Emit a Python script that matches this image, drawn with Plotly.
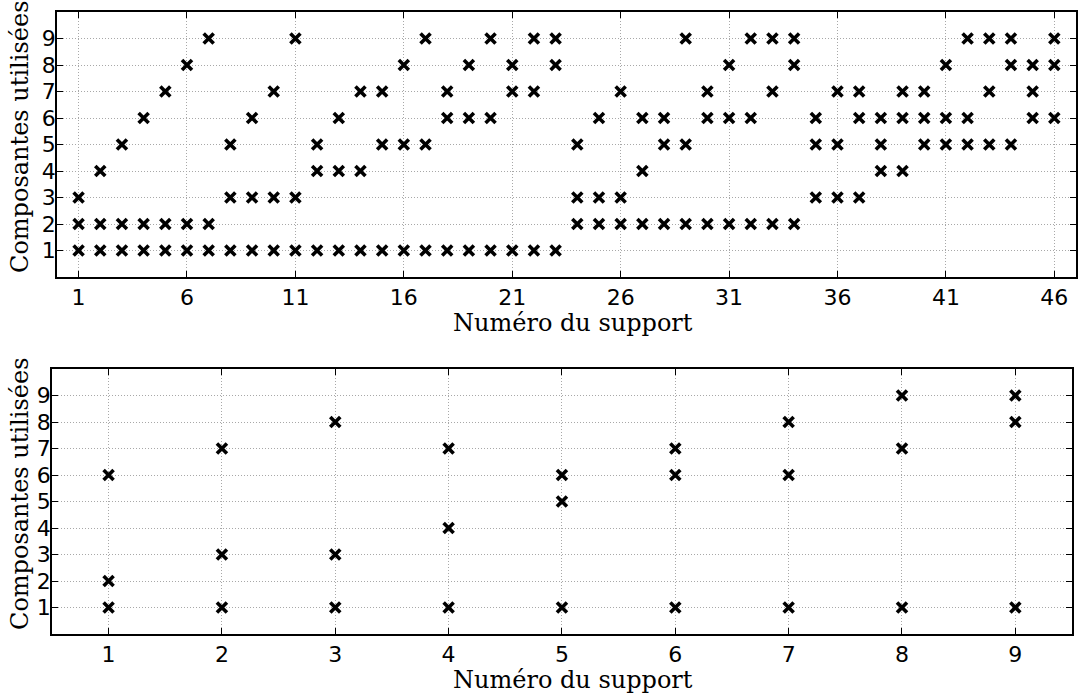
import plotly.graph_objects as go

W, H = 1078, 695

# Top chart: support number -> components used
top_supports = list(range(1, 47))
top_components = [
    [1, 2, 3], [1, 2, 4], [1, 2, 5], [1, 2, 6], [1, 2, 7], [1, 2, 8], [1, 2, 9],
    [1, 3, 5], [1, 3, 6], [1, 3, 7], [1, 3, 9], [1, 4, 5], [1, 4, 6], [1, 4, 7],
    [1, 5, 7], [1, 5, 8], [1, 5, 9], [1, 6, 7], [1, 6, 8], [1, 6, 9], [1, 7, 8],
    [1, 7, 9], [1, 8, 9], [2, 3, 5], [2, 3, 6], [2, 3, 7], [2, 4, 6], [2, 5, 6],
    [2, 5, 9], [2, 6, 7], [2, 6, 8], [2, 6, 9], [2, 7, 9], [2, 8, 9], [3, 5, 6],
    [3, 5, 7], [3, 6, 7], [4, 5, 6], [4, 6, 7], [5, 6, 7], [5, 6, 8], [5, 6, 9],
    [5, 7, 9], [5, 8, 9], [6, 7, 8], [6, 8, 9],
]
top_xticks = [1, 6, 11, 16, 21, 26, 31, 36, 41, 46]

# Bottom chart
bottom_supports = list(range(1, 10))
bottom_components = [
    [1, 2, 6], [1, 3, 7], [1, 3, 8], [1, 4, 7], [1, 5, 6],
    [1, 6, 7], [1, 6, 8], [1, 7, 9], [1, 8, 9],
]
bottom_xticks = list(range(1, 10))
y_ticks = list(range(1, 10))

xlabel = "Numéro du support"
ylabel = "Composantes utilisées"


def flatten(supports, comps):
    xs, ys = [], []
    for s, c in zip(supports, comps):
        for v in c:
            xs.append(s)
            ys.append(v)
    return xs, ys


fig = go.Figure()
marker = dict(symbol="x-thin", size=10, color="black",
              line=dict(width=3.6, color="black"))

tx, ty = flatten(top_supports, top_components)
bx, by = flatten(bottom_supports, bottom_components)
fig.add_trace(go.Scatter(x=tx, y=ty, mode="markers", marker=marker,
                         xaxis="x", yaxis="y", showlegend=False))
fig.add_trace(go.Scatter(x=bx, y=by, mode="markers", marker=marker,
                         xaxis="x2", yaxis="y2", showlegend=False))

tick_font = dict(family="DejaVu Sans, sans-serif", size=22, color="black")
title_font = dict(family="DejaVu Serif, serif", size=24, color="black")

common = dict(
    showline=True, linecolor="black", linewidth=1.5, mirror="ticks",
    ticks="inside", ticklen=6, tickwidth=1, tickcolor="black",
    showgrid=True, gridcolor="#a8a8a8", griddash="1px,2px", gridwidth=1,
    zeroline=False, tickfont=tick_font,
)

fig.update_layout(
    width=W, height=H,
    margin=dict(l=0, r=0, t=0, b=0),
    paper_bgcolor="white", plot_bgcolor="white",
    xaxis=dict(domain=[57 / W, 1.0], range=[0, 47], tickvals=top_xticks,
               anchor="y", ticklabelstandoff=0, **common),
    yaxis=dict(domain=[1 - 277 / H, 1 - 12 / H], range=[0, 10], tickvals=y_ticks,
               anchor="x", ticklabelstandoff=-5, **common),
    xaxis2=dict(domain=[52 / W, 1074 / W], range=[0.5, 9.5], tickvals=bottom_xticks,
                anchor="y2", ticklabelstandoff=0, **common),
    yaxis2=dict(domain=[1 - 634 / H, 1 - 369 / H], range=[0, 10], tickvals=y_ticks,
                anchor="x2", ticklabelstandoff=-5, **common),
    annotations=[
        dict(text=xlabel, x=574 / W, y=1 - 323 / H, xref="paper", yref="paper",
             xanchor="center", yanchor="middle", showarrow=False, font=title_font),
        dict(text=xlabel, x=574 / W, y=1 - 680 / H, xref="paper", yref="paper",
             xanchor="center", yanchor="middle", showarrow=False, font=title_font),
        dict(text=ylabel, x=20 / W, y=1 - 137 / H, xref="paper", yref="paper",
             xanchor="center", yanchor="middle", textangle=-90, showarrow=False,
             font=title_font),
        dict(text=ylabel, x=20 / W, y=1 - 494 / H, xref="paper", yref="paper",
             xanchor="center", yanchor="middle", textangle=-90, showarrow=False,
             font=title_font),
    ],
)

fig.write_html("out.html")
